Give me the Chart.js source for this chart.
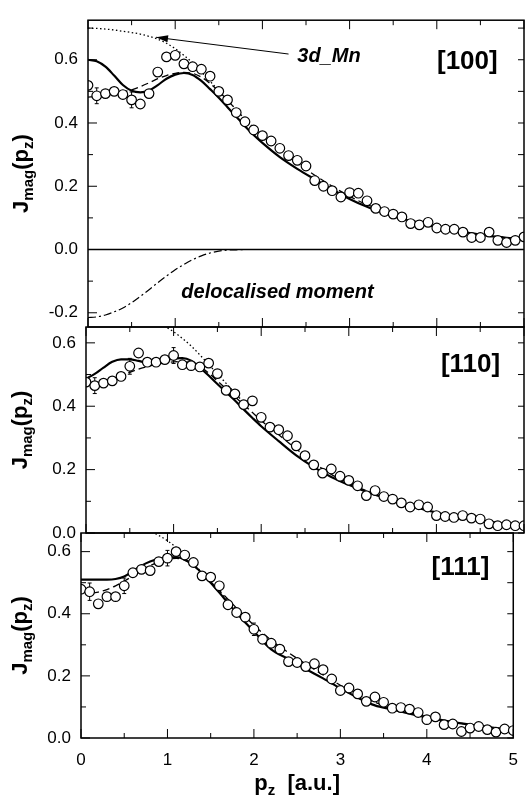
<!DOCTYPE html>
<html lang="en">
<head>
<meta charset="UTF-8" />
<title>Magnetic Compton profiles of Mn</title>
<script src="https://cdn.jsdelivr.net/npm/chart.js@4"></script>
<style>
  body { margin: 0; background: #fff; }
  #wrap { position: relative; width: 530px; height: 801px; }
  #wrap canvas { position: absolute; left: 0; top: 0; }
</style>
</head>
<body>
<div id="wrap">
  <canvas id="c100" width="530" height="801"></canvas>
  <canvas id="c110" width="530" height="801"></canvas>
  <canvas id="c111" width="530" height="801"></canvas>
</div>
<script>
// momentum of the measured points and of the calculated curves (a.u.)
var pz = [0.0,0.1,0.2,0.3,0.4,0.5,0.6,0.7,0.8,0.9,1.0,1.1,1.2,1.3,1.4,1.5,1.6,1.7,1.8,1.9,2.0,
  2.1,2.2,2.3,2.4,2.5,2.6,2.7,2.8,2.9,3.0,3.1,3.2,3.3,3.4,3.5,3.6,3.7,3.8,3.9,4.0,
  4.1,4.2,4.3,4.4,4.5,4.6,4.7,4.8,4.9,5.0];
var pzFit = [0.0,0.1,0.2,0.3,0.4,0.5,0.6,0.7,0.8,0.9,1.0,1.1,1.2,1.3,1.4,1.5,1.6,1.7,1.8,1.9,2.0,
  2.2,2.4,2.6,2.8,3.0,3.2,3.4,3.6,3.8,4.0,4.2,4.4,4.6,4.8,5.0];

// [100]
var expt100 = [0.519,0.486,0.493,0.500,0.490,0.473,0.460,0.493,0.561,0.609,0.614,0.587,0.578,0.570,0.548,0.500,0.473,0.433,0.404,0.378,0.360,
  0.343,0.320,0.297,0.282,0.264,0.218,0.200,0.186,0.166,0.180,0.178,0.154,0.130,0.120,0.112,0.103,0.082,0.078,0.086,0.068,
  0.064,0.064,0.055,0.038,0.038,0.055,0.029,0.022,0.029,0.040];
var fit100 = [0.600,0.595,0.578,0.550,0.520,0.502,0.497,0.503,0.520,0.540,0.553,0.558,0.552,0.533,0.507,0.480,0.450,0.420,0.390,0.362,0.337,
  0.292,0.255,0.222,0.190,0.160,0.135,0.115,0.098,0.083,0.071,0.060,0.051,0.043,0.037,0.032];
var dash100 = [0.482,0.484,0.488,0.493,0.498,0.505,0.515,0.527,0.540,0.550,0.557,0.560,0.557,0.545,0.525,0.500,0.472,0.442,0.412,0.385,0.360,
  0.312,0.272,0.235,0.200,0.168,0.142,0.120,0.101,0.086,0.073,0.062,0.052,0.044,0.038,0.033];
var errIdx100 = [1, 5];
var errVal100 = [0.025, 0.025];

// free atom 3d Mn profile (dotted) and delocalised moment (dash-dot)
var mnPz = [0.0,0.1,0.2,0.3,0.4,0.5,0.6,0.7,0.8,0.9,1.0,1.1,1.2,1.3,1.4,1.5,1.6,1.7,1.8];
var mn3d = [0.700,0.699,0.697,0.694,0.690,0.686,0.681,0.674,0.665,0.652,0.635,0.614,0.590,0.562,0.532,0.502,0.472,0.442,0.412];
var delocPz = [0.0,0.1,0.2,0.3,0.4,0.5,0.6,0.7,0.8,0.9,1.0,1.1,1.2,1.3,1.4,1.5,1.6,1.7,1.8,1.9,2.0];
var deloc = [-0.215,-0.213,-0.207,-0.197,-0.185,-0.168,-0.148,-0.127,-0.105,-0.084,-0.064,-0.047,-0.032,-0.020,-0.011,-0.005,-0.002,-0.001,0,0,0];
var zeroPz = [0, 5];
var zeroVal = [0, 0];

// [110]
var expt110 = [0.476,0.465,0.473,0.480,0.494,0.526,0.568,0.539,0.539,0.547,0.560,0.531,0.528,0.524,0.536,0.503,0.450,0.439,0.405,0.417,0.365,
  0.334,0.326,0.307,0.275,0.244,0.215,0.189,0.202,0.179,0.166,0.149,0.118,0.134,0.115,0.107,0.095,0.082,0.089,0.082,0.055,
  0.052,0.049,0.055,0.047,0.044,0.029,0.023,0.026,0.023,0.023];
var fit110 = [0.487,0.502,0.522,0.540,0.548,0.548,0.543,0.538,0.538,0.544,0.551,0.552,0.544,0.522,0.497,0.470,0.444,0.418,0.390,0.363,0.337,
  0.290,0.245,0.208,0.177,0.152,0.130,0.112,0.094,0.078,0.064,0.053,0.044,0.036,0.029,0.024];
var dash110 = [0.470,0.472,0.478,0.485,0.495,0.507,0.517,0.525,0.532,0.537,0.540,0.541,0.537,0.525,0.505,0.480,0.455,0.430,0.405,0.380,0.355,
  0.310,0.265,0.222,0.185,0.158,0.134,0.114,0.096,0.079,0.066,0.055,0.045,0.037,0.030,0.025];
var errIdx110 = [1, 5, 10];
var errVal110 = [0.025, 0.025, 0.025];

// [111]
var expt111 = [0.479,0.471,0.432,0.455,0.455,0.490,0.532,0.543,0.539,0.568,0.579,0.600,0.589,0.565,0.522,0.518,0.490,0.429,0.404,0.389,0.350,
  0.318,0.305,0.286,0.246,0.243,0.230,0.239,0.220,0.190,0.153,0.161,0.142,0.118,0.132,0.115,0.096,0.098,0.093,0.082,0.059,
  0.068,0.043,0.045,0.021,0.032,0.037,0.027,0.019,0.029,0.024];
var fit111 = [0.510,0.510,0.510,0.510,0.512,0.520,0.538,0.555,0.568,0.577,0.582,0.582,0.575,0.557,0.530,0.500,0.468,0.435,0.402,0.372,0.343,
  0.285,0.254,0.222,0.192,0.160,0.130,0.105,0.092,0.078,0.067,0.056,0.047,0.039,0.032,0.026];
var dash111 = [0.470,0.468,0.470,0.478,0.490,0.505,0.522,0.540,0.555,0.567,0.575,0.578,0.572,0.555,0.530,0.503,0.475,0.447,0.418,0.390,0.363,
  0.315,0.275,0.238,0.203,0.170,0.140,0.115,0.096,0.081,0.068,0.057,0.047,0.039,0.032,0.026];
var errIdx111 = [1, 5, 10, 20];
var errVal111 = [0.028, 0.025, 0.025, 0.02];

// axis ticks
var xTicks = [0, 1, 2, 3, 4, 5];
var yTicks100 = [-0.2, 0.0, 0.2, 0.4, 0.6];
var yTicks110 = [0.0, 0.2, 0.4, 0.6];
var yTicks111 = [0.0, 0.2, 0.4, 0.6];

var FONT = "'Liberation Sans', Arial, sans-serif";
var Y_AXIS_W = 50;
var X_AXIS_H = 34;

function pts(xs, ys) {
  return ys.map(function (y, i) { return { x: xs[i], y: y }; });
}

function curve(xs, ys, width, dash) {
  return {
    data: pts(xs, ys),
    borderColor: "#000",
    borderWidth: width,
    borderDash: dash,
    pointRadius: 0,
    cubicInterpolationMode: "monotone",
  };
}

function baseSets(expt, fit, dash) {
  return [
    {
      data: pts(pz, expt),
      showLine: false,
      clip: 0,
      pointRadius: 4.8,
      pointBackgroundColor: "#fff",
      pointBorderColor: "#000",
      pointBorderWidth: 1.2,
      borderColor: "#000",
    },
    curve(pzFit, fit, 2.2, []),
    curve(pzFit, dash, 1.3, [7, 4]),
    curve(mnPz, mn3d, 1.3, [1.5, 2.5]),
  ];
}

function line(ctx, x1, y1, x2, y2) {
  ctx.beginPath();
  ctx.moveTo(x1, y1);
  ctx.lineTo(x2, y2);
  ctx.stroke();
}

// text with subscripts, parts = [[text, isSub], ...]
function drawParts(ctx, parts, x, y, big, small) {
  parts.forEach(function (p) {
    ctx.font = p[1] ? small : big;
    ctx.fillText(p[0], x, y + (p[1] ? 5 : 0));
    x += ctx.measureText(p[0]).width;
  });
}

function partsWidth(ctx, parts, big, small) {
  var w = 0;
  parts.forEach(function (p) {
    ctx.font = p[1] ? small : big;
    w += ctx.measureText(p[0]).width;
  });
  return w;
}

var framePlugin = {
  id: "frame",
  beforeDatasetsDraw: function (chart, args, o) {
    var ctx = chart.ctx, xs = chart.scales.x, ys = chart.scales.y;
    var expt = chart.data.datasets[0].data;
    ctx.save();
    ctx.strokeStyle = "#000";
    ctx.lineWidth = 1;
    o.errIdx.forEach(function (idx, i) {
      var px = xs.getPixelForValue(expt[idx].x);
      var y1 = ys.getPixelForValue(expt[idx].y - o.errVal[i]);
      var y2 = ys.getPixelForValue(expt[idx].y + o.errVal[i]);
      line(ctx, px, y1, px, y2);
      line(ctx, px - 2, y1, px + 2, y1);
      line(ctx, px - 2, y2, px + 2, y2);
    });
    ctx.restore();
  },
  afterDraw: function (chart, args, o) {
    var ctx = chart.ctx, a = chart.chartArea, xs = chart.scales.x, ys = chart.scales.y;
    ctx.save();
    ctx.strokeStyle = "#000";
    ctx.fillStyle = "#000";
    ctx.lineWidth = 1.5;
    ctx.strokeRect(a.left, a.top, a.right - a.left, a.bottom - a.top);
    ctx.lineWidth = 1;
    var k, px, py, len;
    for (k = 0; k <= 10; k++) {
      px = xs.getPixelForValue(k * 0.5);
      len = k % 2 === 0 ? 9 : 5;
      line(ctx, px, a.top, px, a.top + len);
      line(ctx, px, a.bottom, px, a.bottom - len);
    }
    for (k = o.yTickFrom; k <= o.yTickTo; k++) {
      py = ys.getPixelForValue(k / 10);
      len = k % 2 === 0 ? 9 : 5;
      line(ctx, a.left, py, a.left + len, py);
      line(ctx, a.right, py, a.right - 6, py);
    }

    // y title J_mag(p_z)
    var big = "bold 22px " + FONT, small = "bold 15px " + FONT;
    var yt = [["J", 0], ["mag", 1], ["(p", 0], ["z", 1], [")", 0]];
    ctx.translate(o.titleX, (a.top + a.bottom) / 2);
    ctx.rotate(-Math.PI / 2);
    ctx.textBaseline = "alphabetic";
    ctx.textAlign = "left";
    drawParts(ctx, yt, -partsWidth(ctx, yt, big, small) / 2, 0, big, small);
    ctx.setTransform(1, 0, 0, 1, 0, 0);

    // direction label
    ctx.font = "bold 26px " + FONT;
    ctx.textAlign = "center";
    ctx.textBaseline = "middle";
    ctx.fillText(o.dir[0], xs.getPixelForValue(o.dir[1]), ys.getPixelForValue(o.dir[2]));

    if (o.notes) {
      ctx.font = "italic bold 20px " + FONT;
      ctx.textAlign = "left";
      o.notes.forEach(function (n) {
        ctx.fillText(n[0], xs.getPixelForValue(n[1]), ys.getPixelForValue(n[2]));
      });
    }
    if (o.arrow) {
      var tx = xs.getPixelForValue(o.arrow[0]), ty = ys.getPixelForValue(o.arrow[1]);
      var sx = xs.getPixelForValue(o.arrow[2]), sy = ys.getPixelForValue(o.arrow[3]);
      line(ctx, sx, sy, tx, ty);
      var ang = Math.atan2(ty - sy, tx - sx);
      ctx.beginPath();
      ctx.moveTo(tx, ty);
      ctx.lineTo(tx - 12 * Math.cos(ang) + 3.5 * Math.sin(ang), ty - 12 * Math.sin(ang) - 3.5 * Math.cos(ang));
      ctx.lineTo(tx - 12 * Math.cos(ang) - 3.5 * Math.sin(ang), ty - 12 * Math.sin(ang) + 3.5 * Math.cos(ang));
      ctx.closePath();
      ctx.fill();
    }
    if (o.xTitle) {
      var xt = [["p", 0], ["z", 1], ["  [a.u.]", 0]];
      ctx.textAlign = "left";
      ctx.textBaseline = "alphabetic";
      var w = partsWidth(ctx, xt, big, small);
      drawParts(ctx, xt, (a.left + a.right) / 2 - w / 2, 790, big, small);
    }
    ctx.restore();
  },
};
Chart.register(framePlugin);

function makePanel(id, area, yMin, yMax, yTicks, sets, extra) {
  var showX = !!extra.xTitle;
  var xH = showX ? X_AXIS_H : 0;
  return new Chart(document.getElementById(id), {
    type: "line",
    data: { datasets: sets },
    options: {
      responsive: false,
      animation: false,
      devicePixelRatio: 1,
      layout: {
        padding: {
          left: area.left - Y_AXIS_W,
          right: 530 - area.right,
          top: area.top,
          bottom: 801 - area.bottom - xH,
        },
      },
      plugins: {
        legend: { display: false },
        tooltip: { enabled: false },
        frame: extra,
      },
      scales: {
        x: {
          type: "linear",
          min: 0,
          max: 5,
          display: showX,
          grid: { display: false, drawTicks: false },
          border: { display: false },
          afterBuildTicks: function (s) { s.ticks = xTicks.map(function (v) { return { value: v }; }); },
          afterFit: function (s) { s.height = xH; },
          ticks: {
            padding: 12,
            color: "#000",
            font: { family: FONT, size: 17 },
            maxRotation: 0,
            callback: function (v) { return String(v); },
          },
        },
        y: {
          type: "linear",
          min: yMin,
          max: yMax,
          grid: { display: false, drawTicks: false },
          border: { display: false },
          afterBuildTicks: function (s) { s.ticks = yTicks.map(function (v) { return { value: v }; }); },
          afterFit: function (s) { s.width = Y_AXIS_W; },
          ticks: {
            padding: 10,
            color: "#000",
            font: { family: FONT, size: 17 },
            callback: function (v) { return v.toFixed(1); },
          },
        },
      },
    },
  });
}

var sets100 = baseSets(expt100, fit100, dash100);
sets100.push(curve(delocPz, deloc, 1.2, [8, 3, 2, 3]));
sets100.push(curve(zeroPz, zeroVal, 1.6, []));

makePanel("c100", { left: 88, right: 529, top: 12, bottom: 327 }, -0.245, 0.725, yTicks100, sets100, {
  errIdx: errIdx100, errVal: errVal100, yTickFrom: -2, yTickTo: 7, titleX: 28,
  dir: ["[100]", 4.35, 0.594],
  notes: [["3d_Mn", 2.4, 0.609], ["delocalised moment", 1.07, -0.135]],
  arrow: [0.78, 0.671, 2.3, 0.618],
});

makePanel("c110", { left: 86, right: 527.5, top: 327, bottom: 533 }, 0, 0.65, yTicks110,
  baseSets(expt110, fit110, dash110), {
  errIdx: errIdx110, errVal: errVal110, yTickFrom: 0, yTickTo: 6, titleX: 27,
  dir: ["[110]", 4.39, 0.531],
});

makePanel("c111", { left: 81, right: 525, top: 533, bottom: 738 }, 0, 0.66, yTicks111,
  baseSets(expt111, fit111, dash111), {
  errIdx: errIdx111, errVal: errVal111, yTickFrom: 0, yTickTo: 6, titleX: 27,
  dir: ["[111]", 4.39, 0.548],
  xTitle: true,
});
</script>
</body>
</html>
